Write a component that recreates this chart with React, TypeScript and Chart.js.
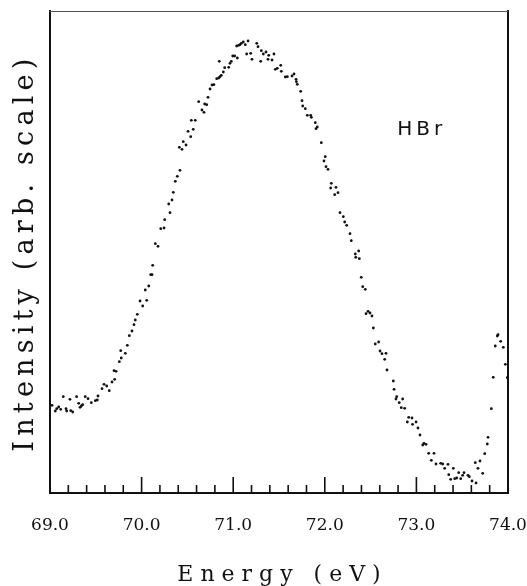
import React, { useEffect, useRef } from 'react';
import { Chart, registerables } from 'chart.js';

Chart.register(...registerables);

// Photon energy (eV)
const energy: number[] = [
  69.022, 69.058, 69.073, 69.095, 69.117, 69.145, 69.175, 69.182, 69.218, 69.226,
  69.248, 69.291, 69.313, 69.328, 69.342, 69.357, 69.385, 69.415, 69.451, 69.495,
  69.516, 69.524, 69.568, 69.590, 69.619, 69.647, 69.677, 69.699, 69.706, 69.721,
  69.757, 69.772, 69.778, 69.822, 69.844, 69.866, 69.895, 69.917, 69.931, 69.953,
  69.983, 70.012, 70.040, 70.056, 70.078, 70.099, 70.114, 70.121, 70.150, 70.179,
  70.209, 70.245, 70.252, 70.296, 70.310, 70.332, 70.346, 70.368, 70.390, 70.412,
  70.419, 70.441, 70.455, 70.485, 70.507, 70.536, 70.543, 70.564, 70.586, 70.623,
  70.659, 70.681, 70.689, 70.711, 70.725, 70.747, 70.769, 70.790, 70.820, 70.842,
  70.848, 70.856, 70.870, 70.892, 70.907, 70.951, 70.965, 70.979, 70.995, 71.016,
  71.038, 71.045, 71.060, 71.074, 71.088, 71.110, 71.132, 71.147, 71.162, 71.191,
  71.205, 71.257, 71.271, 71.300, 71.307, 71.329, 71.358, 71.380, 71.388, 71.424,
  71.445, 71.460, 71.481, 71.519, 71.525, 71.569, 71.591, 71.642, 71.664, 71.686,
  71.690, 71.700, 71.737, 71.751, 71.759, 71.787, 71.809, 71.846, 71.853, 71.896,
  71.904, 71.918, 71.962, 71.991, 72.005, 72.013, 72.035, 72.064, 72.071, 72.108,
  72.122, 72.144, 72.166, 72.202, 72.217, 72.239, 72.275, 72.289, 72.333, 72.338,
  72.370, 72.377, 72.398, 72.414, 72.442, 72.450, 72.472, 72.493, 72.515, 72.530,
  72.551, 72.588, 72.603, 72.624, 72.654, 72.668, 72.679, 72.748, 72.756, 72.777,
  72.785, 72.813, 72.835, 72.850, 72.872, 72.901, 72.916, 72.952, 72.958, 72.996,
  73.017, 73.039, 73.069, 73.083, 73.105, 73.134, 73.163, 73.192, 73.214, 73.265,
  73.287, 73.309, 73.345, 73.353, 73.374, 73.403, 73.418, 73.440, 73.462, 73.484,
  73.505, 73.520, 73.563, 73.578, 73.607, 73.643, 73.651, 73.672, 73.694, 73.724,
  73.746, 73.774, 73.782, 73.818, 73.839, 73.861, 73.883, 73.891, 73.920, 73.949,
  73.971, 73.992,
];

// Intensity (arbitrary units)
const intensity: number[] = [
  87.7, 82, 84.3, 86, 83.7, 96.3, 84.3, 82, 93.7, 82.3,
  81, 96.3, 89.7, 85.7, 87, 88.3, 96.3, 94.3, 90.3, 92.3,
  93, 97, 104.3, 108.7, 107, 102.3, 111, 122.3, 113.7, 121.7,
  131.3, 142.3, 135, 139.7, 147.7, 157.3, 162, 168.3, 173, 178.7,
  192, 187, 203, 192.7, 207, 218.3, 218.3, 227.7, 249.3, 246.7,
  264.3, 265, 273.3, 289, 280.3, 293, 300.7, 311.7, 316.7, 345.7,
  322.7, 343.7, 351.3, 348, 361.7, 356.3, 372.7, 363.7, 372.7, 391.3,
  383, 380.7, 389, 388.3, 395.7, 404, 408, 408.3, 414.3, 415,
  431.7, 416.3, 417.7, 421, 425.3, 425.7, 429.7, 431.7, 437, 437,
  447, 435, 447.7, 448.3, 449.7, 451, 448.3, 439, 452, 439.7,
  433.7, 449.7, 446.3, 431.7, 442.3, 439, 441, 433.7, 437.7, 433,
  439, 423.7, 424.7, 427.7, 421.7, 416, 416.3, 417, 419, 413.7,
  411.3, 408.7, 401.7, 392.3, 387, 384.3, 377.7, 377.7, 375.7, 370.3,
  364.3, 366, 350.3, 332, 336.3, 326.3, 323.7, 305, 309.7, 298.3,
  305.7, 300.3, 280.3, 276.3, 271, 267.7, 259.3, 252.3, 239, 235.7,
  242, 234.3, 215.7, 206.3, 203.7, 179.3, 181.7, 180, 177, 165,
  149, 151, 142, 139.3, 133.7, 139.7, 123, 112, 103.7, 94,
  96.3, 90.3, 85.3, 94, 84.7, 71, 75.7, 75, 68.7, 71,
  65, 58, 48, 49.7, 48.7, 39.7, 32.7, 39.7, 29, 29.7,
  29, 24.7, 28.7, 18.3, 13.7, 24.7, 14.3, 15, 20.3, 14.3,
  17.7, 20.3, 17.7, 16.3, 12, 30.3, 10, 24.7, 32, 19.7,
  39.3, 49, 55.7, 84.3, 115.7, 147, 157, 158.3, 151.7, 145.7,
  128.7, 115.3,
];

const xMin = 69.0;
const xMax = 74.0;
const yMin = 0;
const yMax = 482;

const majorTicks: number[] = [69.0, 70.0, 71.0, 72.0, 73.0, 74.0];
const tickLabels: string[] = ['69.0', '70.0', '71.0', '72.0', '73.0', '74.0'];
const minorTicks: number[] = [
  69.2, 69.4, 69.6, 69.8, 70.2, 70.4, 70.6, 70.8, 71.2, 71.4, 71.6, 71.8,
  72.2, 72.4, 72.6, 72.8, 73.2, 73.4, 73.6, 73.8,
];

const xTitle = 'Energy (eV)';
const yTitle = 'Intensity (arb. scale)';
const annotationText = 'HBr';
const annotationX = 72.79;
const annotationY = 358;

const W = 527;
const H = 586;

const framePlugin = {
  id: 'framePlugin',
  beforeDatasetsDraw(chart: any) {
    const { ctx, chartArea } = chart;
    const xs = chart.scales.x;
    const { left, right, top, bottom } = chartArea;
    ctx.save();
    ctx.strokeStyle = '#111';
    ctx.lineCap = 'square';
    ctx.lineWidth = 2;
    ctx.beginPath();
    ctx.moveTo(left, top);
    ctx.lineTo(left, bottom);
    ctx.lineTo(right, bottom);
    ctx.lineTo(right, top);
    ctx.stroke();
    ctx.lineWidth = 1;
    ctx.strokeStyle = '#555';
    ctx.beginPath();
    ctx.moveTo(left, top + 0.5);
    ctx.lineTo(right, top + 0.5);
    ctx.stroke();
    ctx.strokeStyle = '#111';
    ctx.lineWidth = 1.6;
    ctx.lineCap = 'butt';
    ctx.beginPath();
    majorTicks.forEach((v) => {
      const x = xs.getPixelForValue(v);
      ctx.moveTo(x, bottom);
      ctx.lineTo(x, bottom - 16);
    });
    minorTicks.forEach((v) => {
      const x = xs.getPixelForValue(v);
      ctx.moveTo(x, bottom);
      ctx.lineTo(x, bottom - 8);
    });
    ctx.stroke();
    ctx.restore();
  },
  afterDraw(chart: any) {
    const { ctx, chartArea } = chart;
    const xs = chart.scales.x;
    const ys = chart.scales.y;
    ctx.save();
    ctx.fillStyle = '#111';
    const sx = 7;
    (ctx as any).letterSpacing = sx + 'px';
    ctx.font = '22px "DejaVu Serif"';
    ctx.textAlign = 'center';
    ctx.textBaseline = 'alphabetic';
    ctx.fillText(xTitle, (chartArea.left + chartArea.right) / 2 + sx / 2, 581);
    const sy = 5.2;
    (ctx as any).letterSpacing = sy + 'px';
    ctx.font = '27px "DejaVu Serif"';
    ctx.save();
    ctx.translate(33, 250 + sy / 2);
    ctx.rotate(-Math.PI / 2);
    ctx.textAlign = 'center';
    ctx.textBaseline = 'alphabetic';
    ctx.fillText(yTitle, 0, 0);
    ctx.restore();
    (ctx as any).letterSpacing = '4px';
    ctx.font = '20px "DejaVu Sans"';
    ctx.textAlign = 'left';
    ctx.textBaseline = 'alphabetic';
    ctx.fillText(annotationText, xs.getPixelForValue(annotationX), ys.getPixelForValue(annotationY));
    ctx.restore();
  },
};

export default function App() {
  const canvasRef = useRef<HTMLCanvasElement | null>(null);

  useEffect(() => {
    if (!canvasRef.current) return;
    const points = energy.map((e, i) => ({ x: e, y: intensity[i] }));
    const chart = new Chart(canvasRef.current, {
      type: 'scatter',
      data: {
        datasets: [
          {
            label: 'HBr',
            data: points,
            pointRadius: 1.4,
            pointBorderWidth: 0,
            pointBackgroundColor: '#111',
            pointBorderColor: '#111',
            backgroundColor: '#111',
          },
        ],
      },
      options: {
        responsive: false,
        animation: false,
        devicePixelRatio: 1,
        layout: { padding: { left: 50, right: 19, top: 11, bottom: 0 } },
        plugins: {
          legend: { display: false },
          tooltip: { enabled: false },
          title: { display: false },
        },
        scales: {
          x: {
            type: 'linear',
            position: 'bottom',
            min: xMin,
            max: xMax,
            grid: { display: false, drawTicks: false },
            border: { display: false },
            afterBuildTicks: (scale: any) => {
              scale.ticks = majorTicks.map((v) => ({ value: v }));
            },
            afterFit: (scale: any) => {
              scale.height = H - 493;
              scale.paddingLeft = 0;
              scale.paddingRight = 0;
            },
            ticks: {
              autoSkip: false,
              maxRotation: 0,
              minRotation: 0,
              padding: 22,
              color: '#111',
              font: { family: '"DejaVu Serif"', size: 17 },
              callback: (_v: any, index: number) => tickLabels[index],
            },
          },
          y: {
            type: 'linear',
            min: yMin,
            max: yMax,
            display: false,
          },
        },
      },
      plugins: [framePlugin],
    });
    return () => chart.destroy();
  }, []);

  return (
    <div style={{ position: 'absolute', left: 0, top: 0, width: W, height: H, background: '#fff' }}>
      <canvas ref={canvasRef} width={W} height={H} style={{ display: 'block', width: W, height: H }} />
    </div>
  );
}
